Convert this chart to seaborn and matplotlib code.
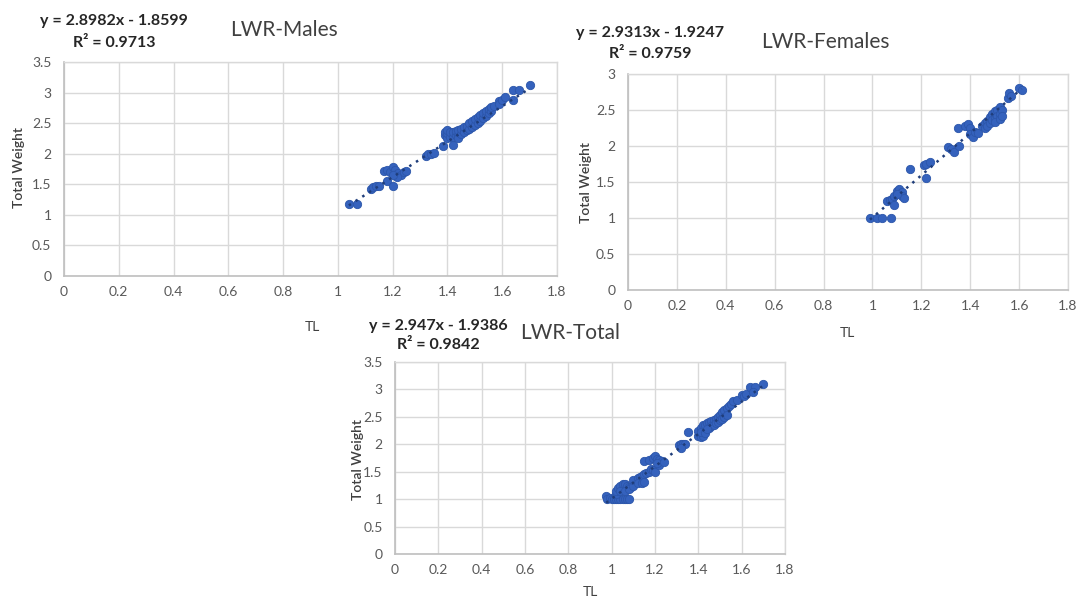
import numpy as np
import pandas as pd
import matplotlib
matplotlib.use("Agg")
import matplotlib.pyplot as plt
import seaborn as sns

# ---------------- data ----------------
males_tl = [1.04, 1.07, 1.12, 1.13, 1.14, 1.15, 1.18, 1.20, 1.17, 1.18, 1.19, 1.20, 1.21, 1.22, 1.23, 1.24,
            1.25, 1.215, 1.20, 1.32, 1.33, 1.34, 1.35, 1.385, 1.42,
            1.39, 1.39, 1.40, 1.40, 1.40, 1.41, 1.41, 1.42, 1.42, 1.43, 1.43, 1.44, 1.44, 1.44, 1.45, 1.45,
            1.46, 1.46, 1.47, 1.47, 1.48, 1.48, 1.49, 1.49, 1.50, 1.50, 1.51, 1.51, 1.52, 1.52, 1.53, 1.53,
            1.54, 1.54, 1.55, 1.55, 1.56, 1.56, 1.57, 1.59, 1.59, 1.60, 1.61, 1.64, 1.64, 1.66, 1.70]
males_w = [1.18, 1.18, 1.43, 1.45, 1.47, 1.48, 1.55, 1.47, 1.72, 1.74, 1.70, 1.78, 1.74, 1.68, 1.65, 1.70,
           1.71, 1.62, 1.66, 1.97, 2.00, 1.99, 2.01, 2.13, 2.14,
           2.30, 2.36, 2.26, 2.34, 2.38, 2.27, 2.35, 2.28, 2.36, 2.30, 2.37, 2.31, 2.38, 2.26, 2.33, 2.40,
           2.35, 2.43, 2.38, 2.46, 2.41, 2.50, 2.44, 2.53, 2.47, 2.56, 2.50, 2.60, 2.54, 2.63, 2.58, 2.67,
           2.62, 2.70, 2.66, 2.73, 2.70, 2.77, 2.78, 2.86, 2.82, 2.88, 2.92, 2.88, 3.05, 3.05, 3.12]

females_tl = [0.99, 1.02, 1.04, 1.075, 1.06, 1.07, 1.08, 1.09, 1.10, 1.11, 1.12, 1.12, 1.13, 1.09, 1.10,
              1.155, 1.21, 1.22, 1.235, 1.22, 1.31, 1.32, 1.335, 1.355,
              1.35, 1.38, 1.39, 1.40, 1.40, 1.41, 1.42, 1.43,
              1.45, 1.46, 1.47, 1.48, 1.49, 1.50, 1.51, 1.52, 1.46, 1.47, 1.48, 1.49, 1.50, 1.51, 1.52, 1.53,
              1.50, 1.52, 1.53, 1.555, 1.56, 1.565, 1.60, 1.61]
females_w = [1.00, 1.00, 1.00, 1.00, 1.23, 1.25, 1.27, 1.30, 1.38, 1.40, 1.36, 1.30, 1.28, 1.18, 1.33,
             1.68, 1.74, 1.75, 1.78, 1.55, 1.98, 1.96, 1.92, 2.00,
             2.25, 2.28, 2.30, 2.25, 2.16, 2.13, 2.20, 2.18,
             2.28, 2.32, 2.35, 2.40, 2.44, 2.48, 2.50, 2.54, 2.25, 2.28, 2.32, 2.36, 2.38, 2.42, 2.45, 2.50,
             2.33, 2.38, 2.41, 2.66, 2.74, 2.70, 2.80, 2.78]

total_tl = [0.975, 0.98, 0.99, 1.00, 1.01, 1.02, 1.03, 1.04, 1.05, 1.06, 1.07, 1.08,
            1.02, 1.02, 1.03, 1.04, 1.05, 1.06, 1.07, 1.08, 1.09, 1.04, 1.06, 1.08, 1.10, 1.10, 1.12, 1.13,
            1.14, 1.15, 1.12, 1.14, 1.15, 1.16, 1.17, 1.18, 1.19, 1.20,
            1.15, 1.17, 1.19, 1.20, 1.21, 1.22, 1.23, 1.22, 1.21, 1.24,
            1.31, 1.32, 1.33, 1.34, 1.32, 1.35, 1.40, 1.41, 1.42,
            1.40, 1.41, 1.42, 1.43, 1.44, 1.41, 1.43, 1.45, 1.46, 1.47, 1.48, 1.49, 1.50, 1.51, 1.52, 1.53,
            1.54, 1.45, 1.46, 1.47, 1.48, 1.49, 1.50, 1.51, 1.52, 1.53, 1.44,
            1.55, 1.56, 1.58, 1.60, 1.61, 1.62, 1.64, 1.66, 1.65, 1.70]
total_w = [1.05, 1.00, 1.02, 1.00, 1.00, 1.00, 1.00, 1.00, 1.00, 1.00, 1.00, 1.00,
           1.10, 1.15, 1.20, 1.24, 1.28, 1.27, 1.24, 1.22, 1.22, 1.15, 1.15, 1.18, 1.24, 1.35, 1.38, 1.40,
           1.42, 1.45, 1.30, 1.30, 1.32, 1.48, 1.50, 1.55, 1.53, 1.50,
           1.70, 1.72, 1.75, 1.78, 1.74, 1.72, 1.70, 1.63, 1.65, 1.68,
           1.98, 2.00, 2.01, 2.00, 1.93, 2.23, 2.15, 2.13, 2.15,
           2.25, 2.30, 2.35, 2.36, 2.38, 2.22, 2.20, 2.40, 2.42, 2.44, 2.47, 2.50, 2.54, 2.58, 2.62, 2.66,
           2.70, 2.30, 2.33, 2.36, 2.38, 2.41, 2.44, 2.47, 2.50, 2.53, 2.28,
           2.73, 2.78, 2.80, 2.90, 2.88, 2.92, 3.05, 3.04, 2.95, 3.10]

titles = ["LWR-Males", "LWR-Females", "LWR-Total"]
slopes = [2.8982, 2.9313, 2.947]
intercepts = [-1.8599, -1.9247, -1.9386]
r2 = ["0.9713", "0.9759", "0.9842"]
eq_labels = ["y = 2.8982x - 1.8599", "y = 2.9313x - 1.9247", "y = 2.947x - 1.9386"]
ymax = [3.5, 3.0, 3.5]
x_ticks = [0, 0.2, 0.4, 0.6, 0.8, 1, 1.2, 1.4, 1.6, 1.8]
x_tick_labels = ["0", "0.2", "0.4", "0.6", "0.8", "1", "1.2", "1.4", "1.6", "1.8"]

# ---------------- style ----------------
sns.set_style("white")
plt.rcParams['font.family'] = ['Lato', 'DejaVu Sans']

W, H = 1077, 597
fig = plt.figure(figsize=(W / 100, H / 100), dpi=100)

def px_axes(l, t, r, b):
    return fig.add_axes([l / W, 1 - b / H, (r - l) / W, (b - t) / H])

boxes = [(64, 62, 557, 276), (628, 74, 1068, 290), (395, 362, 785, 554)]
datasets = [(males_tl, males_w), (females_tl, females_w), (total_tl, total_w)]
eq_pos = [(114, 21, 43), (650, 33, 54), (438, 326, 345)]
title_pos = [(284, 30), (825, 42), (570, 333)]
tl_pos = [(312, 327), (847, 333), (590, 592)]
yl_pos = [(19, 168), (586, 182), (358, 459)]

mfill = "#3562BD"
medge = "#2C56AA"
tick_col = "#595959"
grid_col = "#D9D9D9"

for i in range(3):
    ax = px_axes(*boxes[i])
    tl, w = datasets[i]
    df = pd.DataFrame({"TL": tl, "W": w})
    sns.scatterplot(data=df, x="TL", y="W", ax=ax, s=36, color=mfill,
                    edgecolor=medge, linewidth=0.6, zorder=3, legend=False)
    xs = np.array([min(tl), max(tl)])
    fit = pd.DataFrame({"TL": xs, "W": slopes[i] * xs + intercepts[i]})
    sns.lineplot(data=fit, x="TL", y="W", ax=ax, color="#1F3D7A", lw=1.8,
                 linestyle=(0, (1, 2.2)), zorder=4)
    ax.set_xlim(0, 1.8)
    ax.set_ylim(0, ymax[i])
    ax.set_xticks(x_ticks)
    ax.set_xticklabels(x_tick_labels)
    yt = np.arange(0, ymax[i] + 0.01, 0.5)
    ax.set_yticks(yt)
    ax.set_yticklabels([f"{v:g}" for v in yt])
    ax.grid(True, color=grid_col, lw=1.0)
    ax.set_axisbelow(True)
    for s in ["top", "right"]:
        ax.spines[s].set_color(grid_col)
        ax.spines[s].set_linewidth(1.0)
    for s in ["left", "bottom"]:
        ax.spines[s].set_color("#BFBFBF")
        ax.spines[s].set_linewidth(1.2)
    ax.tick_params(axis="both", length=0, labelsize=10, colors=tick_col)
    ax.tick_params(axis="y", pad=9)
    ax.tick_params(axis="x", pad=7)
    ax.set_xlabel("")
    ax.set_ylabel("")

    ex, ey1, ey2 = eq_pos[i]
    fig.text(ex / W, 1 - ey1 / H, eq_labels[i], ha="center", va="center",
             fontsize=11.5, fontweight="bold", color="#262626")
    fig.text(ex / W, 1 - ey2 / H, f"R² = {r2[i]}", ha="center", va="center",
             fontsize=11.5, fontweight="bold", color="#262626")
    tx, ty = title_pos[i]
    fig.text(tx / W, 1 - ty / H, titles[i], ha="center", va="center",
             fontsize=15, color="#404040")
    lx, ly = tl_pos[i]
    fig.text(lx / W, 1 - ly / H, "TL", ha="center", va="center",
             fontsize=10, color="#404040")
    yx, yy = yl_pos[i]
    fig.text(yx / W, 1 - yy / H, "Total Weight", ha="center", va="center",
             fontsize=10, color="#404040", rotation=90, fontweight="semibold")

fig.savefig("out.png", dpi=100, facecolor="white")
